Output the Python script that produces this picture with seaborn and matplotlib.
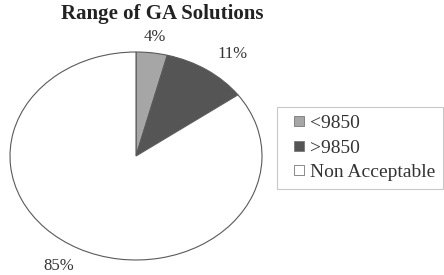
import matplotlib
matplotlib.use("Agg")
import matplotlib.pyplot as plt
import seaborn as sns
from matplotlib.patches import Rectangle, Wedge
from matplotlib.legend_handler import HandlerPatch

# data
categories = ["<9850", ">9850", "Non Acceptable"]
shares = [4, 11, 85]
colors = ["#a6a6a6", "#555555", "#ffffff"]
# where the percent labels sit (pie data units, radius 1)
label_pos = [(0.15, 1.14), (0.77, 0.98), (-0.61, -1.06)]

sns.set_theme(style="white")
plt.rcParams["font.family"] = ["Liberation Serif", "DejaVu Serif"]

fig = plt.figure(figsize=(4.44, 2.75), dpi=100)
ax = fig.add_axes([10 / 444, 15 / 275, 252 / 444, 208 / 275])

wedges, texts, autotexts = ax.pie(
    shares, colors=colors, startangle=90, counterclock=False,
    autopct="%.0f%%", pctdistance=1.2,
    wedgeprops=dict(edgecolor="#5a5a5a", linewidth=0.8),
    textprops=dict(fontsize=12, color="#333333"),
)
for t, p in zip(autotexts, label_pos):
    t.set_position(p)
    t.set_clip_on(False)
ax.set_aspect("auto")
ax.set_xlim(-1.0, 1.0)
ax.set_ylim(-1.0, 1.0)

fig.suptitle("Range of GA Solutions", x=0.365, y=0.985, fontsize=15,
             fontweight="bold", color="#222222")


# small square marker pushed to the right of the handle box
def small_square(legend, orig_handle, xdescent, ydescent, width, height, fontsize):
    s = height
    return Rectangle((width - s - xdescent, -ydescent), s, s)


leg = fig.legend(wedges, categories, loc="upper left",
                 bbox_to_anchor=(277 / 444, 1 - 107 / 275), borderaxespad=0,
                 fontsize=14, frameon=True, fancybox=False,
                 handlelength=1.0, handleheight=0.43, handletextpad=0.3,
                 labelspacing=0.4, borderpad=0.4, labelcolor="#333333",
                 handler_map={Wedge: HandlerPatch(patch_func=small_square)})
for h in leg.legend_handles:
    h.set_edgecolor("#777777")
    h.set_linewidth(0.6)
leg.get_frame().set_edgecolor("#bbbbbb")
leg.get_frame().set_linewidth(0.8)

fig.savefig("out.png", dpi=100)
